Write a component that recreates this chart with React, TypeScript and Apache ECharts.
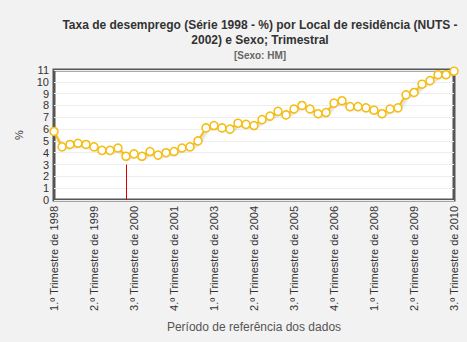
import React, { useEffect, useRef } from "react";
import * as echarts from "echarts";

const years = [1998, 1999, 2000, 2001, 2002, 2003, 2004, 2005, 2006, 2007, 2008, 2009, 2010];
const categories: string[] = [];
years.forEach((y) => {
  for (let q = 1; q <= 4; q++) {
    if (y === 2010 && q > 3) break;
    categories.push(`${q}.º Trimestre de ${y}`);
  }
});

const values = [
  5.8, 4.5, 4.7, 4.8, 4.7, 4.5, 4.2, 4.2, 4.4, 3.7,
  3.9, 3.7, 4.1, 3.8, 4.0, 4.1, 4.4, 4.5, 5.0, 6.1,
  6.3, 6.1, 6.0, 6.5, 6.4, 6.3, 6.8, 7.1, 7.5, 7.2,
  7.7, 8.0, 7.7, 7.3, 7.4, 8.2, 8.4, 7.9, 7.9, 7.8,
  7.6, 7.3, 7.7, 7.8, 8.9, 9.1, 9.8, 10.1, 10.6, 10.6,
  10.9,
];

const markerCategory = "2.º Trimestre de 2000";
const markerValue = 3;

const titleText = "Taxa de desemprego (Série 1998 - %) por Local de residência (NUTS -\n2002) e Sexo; Trimestral";
const subtitleText = "[Sexo: HM]";
const xAxisName = "Período de referência dos dados";
const yAxisName = "%";

export default function App() {
  const ref = useRef<HTMLDivElement>(null);
  useEffect(() => {
    if (!ref.current) return;
    const chart = echarts.init(ref.current, null, { renderer: "svg" });
    const font = "Liberation Sans, Arial, sans-serif";
    chart.setOption({
      animation: false,
      backgroundColor: "#f2f2f2",
      textStyle: { fontFamily: font },
      title: [
        {
          text: titleText,
          left: 255,
          top: 12,
          textAlign: "center",
          textStyle: { fontSize: 12, fontWeight: "bold", color: "#333", lineHeight: 15, fontFamily: font },
        },
        {
          text: subtitleText,
          left: 255,
          top: 45,
          textAlign: "center",
          textStyle: { fontSize: 10, fontWeight: "bold", color: "#666", fontFamily: font },
        },
      ],
      grid: {
        left: 54,
        right: 13,
        top: 70,
        bottom: 142,
        show: true,
        backgroundColor: "#fff",
        borderColor: "#555",
        borderWidth: 3,
      },
      xAxis: {
        type: "category",
        data: categories,
        boundaryGap: false,
        axisLine: { show: false },
        axisTick: { show: false },
        splitLine: { show: false },
        axisLabel: {
          rotate: 90,
          interval: 4,
          fontSize: 11,
          color: "#333",
          margin: 6,
          fontFamily: font,
        },
        name: xAxisName,
        nameLocation: "middle",
        nameGap: 121,
        nameTextStyle: { fontSize: 12, color: "#555", fontFamily: font },
      },
      yAxis: {
        type: "value",
        min: 0,
        max: 11,
        interval: 1,
        axisLine: { show: false },
        axisTick: { show: false },
        axisLabel: { fontSize: 11, color: "#333", margin: 5, fontFamily: font },
        splitLine: { lineStyle: { color: "#eeeeee", width: 1 } },
        name: yAxisName,
        nameLocation: "middle",
        nameGap: 30,
        nameRotate: 90,
        nameTextStyle: { fontSize: 11, color: "#333", fontFamily: font },
      },
      series: [
        {
          type: "line",
          data: values,
          symbol: "circle",
          symbolSize: 8,
          showAllSymbol: true,
          lineStyle: {
            color: "#f6bd0f",
            width: 2,
            shadowColor: "rgba(0,0,0,0.25)",
            shadowBlur: 3,
            shadowOffsetX: 1,
            shadowOffsetY: 2,
          },
          itemStyle: { color: "#ffffff", borderColor: "#f6bd0f", borderWidth: 1.5 },
          markLine: {
            silent: true,
            symbol: ["none", "none"],
            label: { show: false },
            lineStyle: { color: "#dd0000", width: 1, type: "solid" },
            data: [
              [
                { coord: [markerCategory, 0] },
                { coord: [markerCategory, markerValue] },
              ],
            ],
          },
        },
      ],
    });
    return () => chart.dispose();
  }, []);
  return (
    <div
      ref={ref}
      style={{ position: "absolute", left: 0, top: 0, width: 467, height: 342 }}
    />
  );
}
